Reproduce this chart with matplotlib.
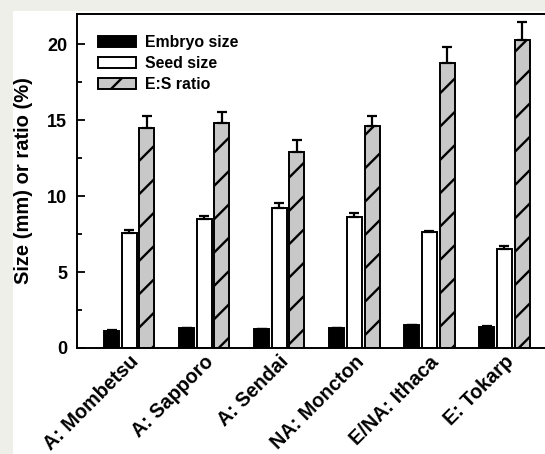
import numpy as np
import matplotlib
matplotlib.use("Agg")
import matplotlib.pyplot as plt
from matplotlib.patches import Rectangle

plt.rcParams["font.family"] = ["Liberation Sans", "DejaVu Sans"]
plt.rcParams["font.weight"] = "bold"
plt.rcParams["hatch.linewidth"] = 1.7

# data
sites = ["A: Mombetsu", "A: Sapporo", "A: Sendai", "NA: Moncton", "E/NA: Ithaca", "E: Tokarp"]
embryo = [1.15, 1.3, 1.25, 1.3, 1.5, 1.4]
embryo_err = [0.03, 0.03, 0.03, 0.03, 0.03, 0.03]
seed = [7.55, 8.5, 9.25, 8.6, 7.65, 6.55]
seed_err = [0.25, 0.22, 0.27, 0.27, 0.08, 0.15]
ratio = [14.5, 14.8, 12.9, 14.6, 18.8, 20.3]
ratio_err = [0.8, 0.75, 0.8, 0.65, 1.05, 1.2]

fig = plt.figure(figsize=(5.45, 4.54), dpi=100, facecolor="#efefea")
# white panel inside the grey frame
fig.patches.append(Rectangle((13 / 545, 0), 1, 1 - 11 / 454, transform=fig.transFigure,
                             facecolor="white", edgecolor="none", zorder=-10))
ax = fig.add_axes([77 / 545, 106 / 454, 480 / 545, 334 / 454])
ax.set_zorder(5)

x = np.arange(1, len(sites) + 1)
w = 0.2
off = 0.235
ekw = dict(elinewidth=1.6, capsize=3.3, capthick=1.6, ecolor="black")
zeros = np.zeros(len(sites))

ax.bar(x - off, embryo, w, color="black", edgecolor="black", linewidth=1.4,
       yerr=[zeros, embryo_err], error_kw=ekw, label="Embryo size")
ax.bar(x, seed, w, color="white", edgecolor="black", linewidth=1.4,
       yerr=[zeros, seed_err], error_kw=ekw, label="Seed size")
ax.bar(x + off, ratio, w, color="#c8c8c8", edgecolor="black", linewidth=1.4, hatch="/",
       yerr=[zeros, ratio_err], error_kw=ekw, label="E:S ratio")

ax.set_xlim(0.304, 6.7)
ax.set_ylim(0, 22)
ax.set_yticks([0, 5, 10, 15, 20])
ax.set_yticks([2.5, 7.5, 12.5, 17.5], minor=True)
ax.tick_params(axis="y", which="major", direction="in", length=6, width=1.3, labelsize=13, pad=7)
ax.tick_params(axis="y", which="minor", direction="in", length=3.5, width=1.3)
ax.set_xticks(x)
ax.set_xticklabels(sites, rotation=45, ha="right", va="top", rotation_mode="anchor", fontsize=14.2)
ax.tick_params(axis="x", length=0, pad=3)
for s in ax.spines.values():
    s.set_linewidth(1.4)

ax.set_ylabel("Size (mm) or ratio (%)", fontsize=14.5, fontweight="bold", labelpad=10)

ax.legend(loc="upper left", bbox_to_anchor=(0.043, 0.937), frameon=False, fontsize=11.4,
          borderpad=0, borderaxespad=0, handlelength=2.4, handleheight=0.65,
          handletextpad=0.6, labelspacing=0.38)

fig.savefig("out.png", dpi=100, facecolor=fig.get_facecolor())
